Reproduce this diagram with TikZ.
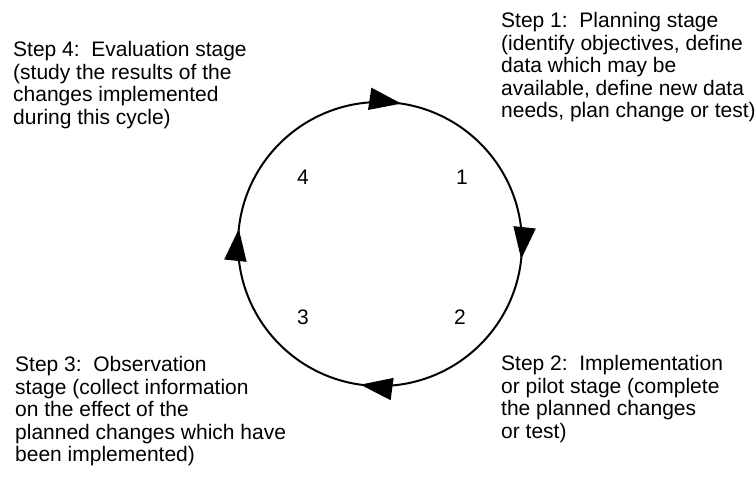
\documentclass[tikz,border=0pt]{standalone}
\usepackage{fontspec}
\setmainfont{Liberation Sans}
\usetikzlibrary{arrows.meta,decorations.markings}
\tikzset{
  lbl/.style={anchor=base west,inner sep=0pt,align=left,font=\fontsize{21}{22.5}\selectfont},
  num/.style={anchor=base,inner sep=0pt,font=\fontsize{21}{22.5}\selectfont},
  cyc/.style={line width=2pt,
    decoration={markings,
      mark=at position 0.024 with {\arrow{Triangle[length=32pt,width=22pt]}},
      mark=at position 0.267 with {\arrow{Triangle[length=32pt,width=22pt]}},
      mark=at position 0.522 with {\arrow{Triangle[length=32pt,width=22pt]}},
      mark=at position 0.767 with {\arrow{Triangle[length=32pt,width=22pt]}}},
    postaction={decorate}}
}
\begin{document}
\begin{tikzpicture}[x=1pt,y=1pt]
\useasboundingbox (0,0) rectangle (756,477);
\coordinate (c) at (380,233);
\draw[cyc] (c) ++(90:142) arc[start angle=90,end angle=-270,radius=142];
\node[lbl] (s4) at (13,352.8) {Step 4:\ \ Evaluation stage\\(study the results of the\\changes implemented\\during this cycle)};
\node[lbl] (s1) at (501,359) {Step 1:\ \ Planning stage\\(identify objectives, define\\data which may be\\available, define new data\\needs, plan change or test)};
\node[lbl] (s3) at (15,15.3) {Step 3:\ \ Observation\\stage (collect information\\on the effect of the\\planned changes which have\\been implemented)};
\node[lbl] (s2) at (501,38.5) {Step 2:\ \ Implementation\\or pilot stage (complete\\the planned changes\\or test)};
\node[num] (n4) at (303,292) {4};
\node[num] (n1) at (462,292) {1};
\node[num] (n3) at (303,152) {3};
\node[num] (n2) at (460,152) {2};
\end{tikzpicture}
\end{document}
